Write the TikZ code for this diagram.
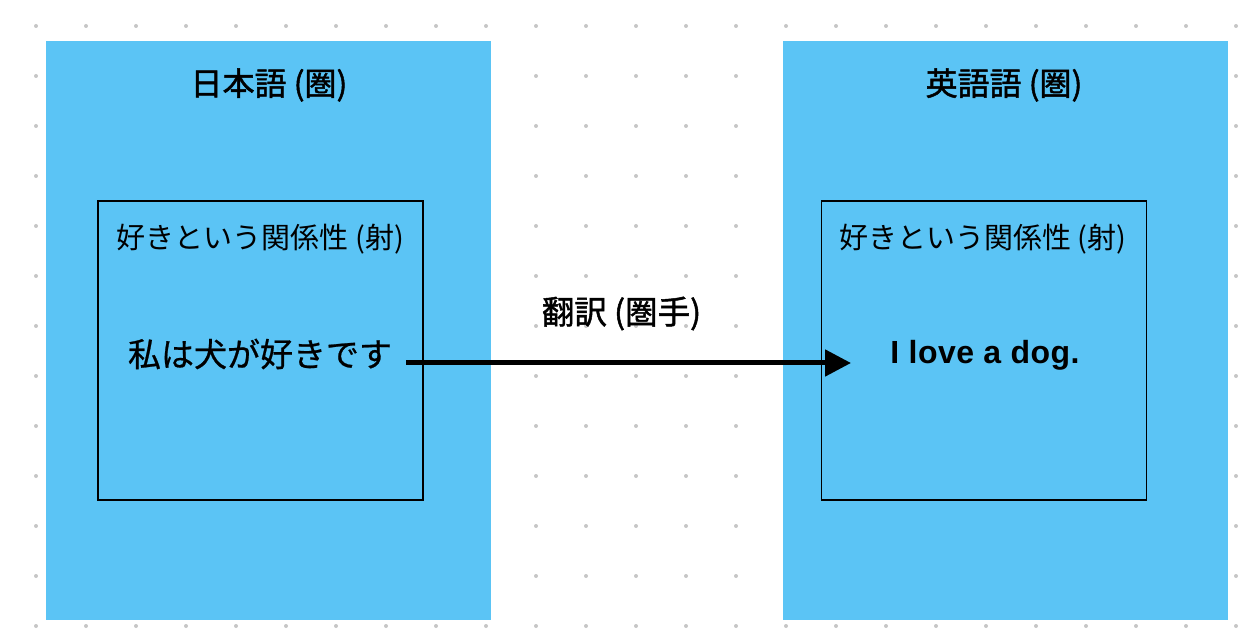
\documentclass[tikz,border=0pt]{standalone}
\usepackage{fontspec}
\setmainfont{Noto Sans CJK JP}
\newfontfamily\medfont{Noto Sans CJK JP}[FakeBold=1.5]
\newfontfamily\semifont{Noto Sans CJK JP}[FakeBold=0.7]
\newfontfamily\latinfont{Liberation Sans}[LetterSpace=1.5]
\usetikzlibrary{arrows.meta}
\definecolor{catblue}{HTML}{5BC4F5}
\definecolor{dotgray}{HTML}{C6C6C6}
\begin{document}
\begin{tikzpicture}[x=1pt,y=-1pt,
  category/.style={fill=catblue,draw=none,inner sep=0pt,outer sep=0pt,minimum width=445pt,minimum height=579pt},
  relbox/.style={draw=black,line width=1.6pt,inner sep=0pt,outer sep=0pt,minimum width=325pt,minimum height=299pt},
  cattitle/.style={inner sep=0pt,font=\fontsize{32}{38}\medfont},
  rellabel/.style={inner sep=0pt,font=\fontsize{29}{34}\selectfont},
  sentence/.style={inner sep=0pt,font=\fontsize{33}{38}\semifont},
  ensentence/.style={inner sep=0pt,anchor=base,font=\fontsize{32}{38}\latinfont\bfseries},
  functorlabel/.style={inner sep=0pt,font=\fontsize{32.5}{38}\medfont},
  functor/.style={line width=5pt,-{Triangle[length=26pt,width=26pt]}}]
\useasboundingbox (0,0) rectangle (1256,644);
\fill[white] (0,0) rectangle (1256,644);
\foreach \i in {0,...,24}{
  \foreach \j in {0,...,12}{
    \fill[dotgray] (36+50*\i,26+50*\j) circle (2);
  }
}
\node[category] (jp) at (268.5,330.5) {};
\node[category] (en) at (1005.5,330.5) {};
\node[cattitle] (jptitle) at (269,85) {日本語 (圏)};
\node[cattitle] (entitle) at (1004,85) {英語語 (圏)};
\node[relbox] (jprel) at (260.5,350.5) {};
\node[relbox] (enrel) at (984,350.5) {};
\node[rellabel] (jprellabel) at (260.5,239) {好きという関係性 (射)};
\node[rellabel] (enrellabel) at (983,239) {好きという関係性 (射)};
\node[sentence] (jpsent) at (260,354) {私は犬が好きです};
\node[ensentence] (ensent) at (985,363.5) {I love a dog.};
\node[functorlabel] (translabel) at (621.5,313.5) {翻訳 (圏手)};
\coordinate (src) at (406,363);
\coordinate (dst) at (851,363);
\draw[functor] (src) -- (dst);
\end{tikzpicture}
\end{document}
